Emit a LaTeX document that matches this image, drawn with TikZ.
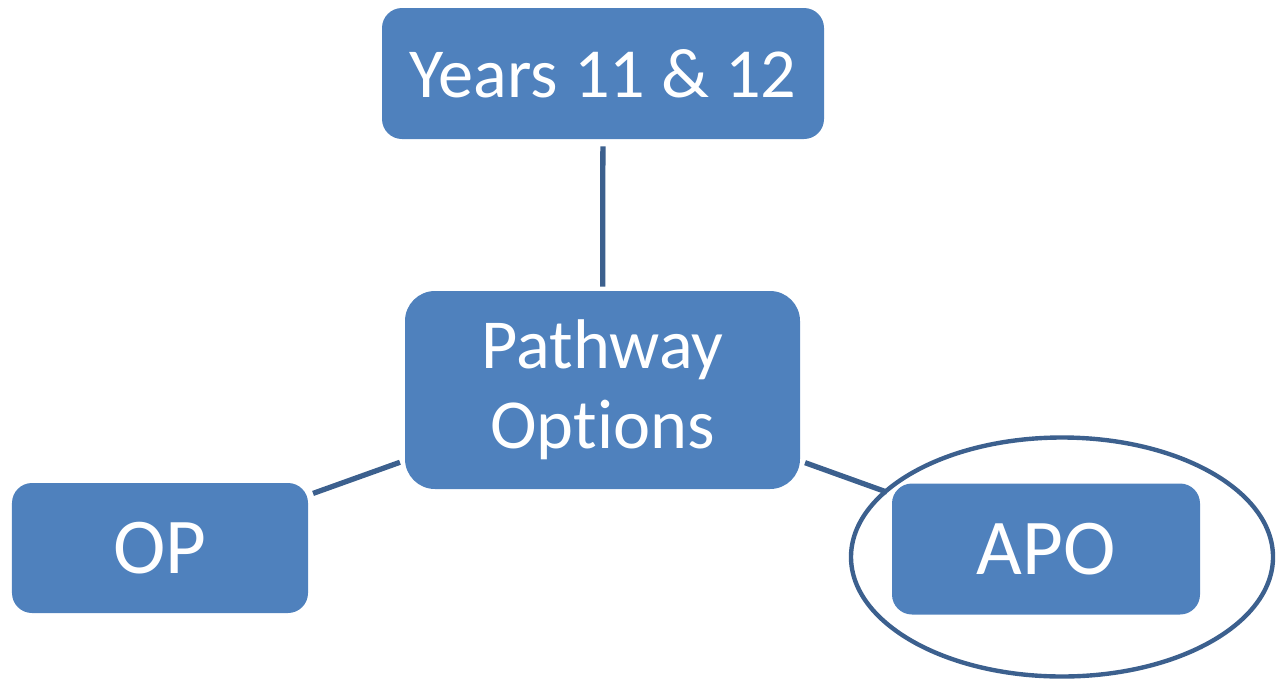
\documentclass[tikz,border=0pt]{standalone}
\usepackage{fontspec}
\setmainfont{Carlito}[Ligatures=NoCommon]
\usetikzlibrary{calc}
\definecolor{boxblue}{RGB}{79,129,189}
\definecolor{lineblue}{RGB}{60,96,142}

\begin{document}
\begin{tikzpicture}[
		box/.style={rectangle, fill=boxblue, text=white, inner sep=0pt, align=center},
		link/.style={lineblue, line width=3pt, shorten <=0.1cm, shorten >=0.1cm}]
			\useasboundingbox (0,0) rectangle (25.52,-13.62);
			\node[box, rounded corners=0.4cm, minimum width=8.84cm, minimum height=2.62cm, font=\fontsize{40}{44}\selectfont] (years) at (12.06,-1.47) {Years 11 \& 12};
			\node[box, rounded corners=0.6cm, minimum width=7.9cm, minimum height=3.96cm, font=\fontsize{40}{45.5}\selectfont] (path) at (12.05,-7.8) {\raisebox{-0.1cm}{Pathway}\\\raisebox{-0.1cm}{Options}};
			\node[box, rounded corners=0.4cm, minimum width=5.92cm, minimum height=2.6cm, font=\fontsize{45}{50}\selectfont] (op) at (3.2,-10.96) {OP};
			\node[box, rounded corners=0.4cm, minimum width=6.16cm, minimum height=2.62cm, font=\fontsize{45}{50}\selectfont] (apo) at (20.92,-10.98) {APO};
			\draw[link, shorten <=0.14cm, shorten >=0.08cm] (years) -- (path);
			\draw[link] (path) -- (op);
			\draw[link] (path) -- (apo);
			% ring round the chosen option
			\draw[lineblue, line width=2.5pt] (21.24,-11.14) ellipse (4.22cm and 2.39cm);
			
		\end{tikzpicture}
\end{document}
